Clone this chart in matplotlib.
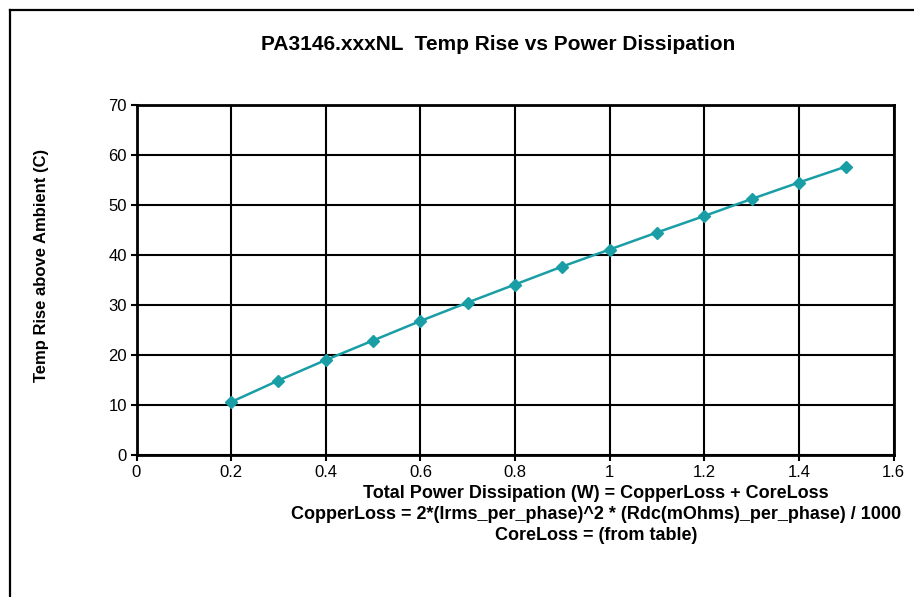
import matplotlib
matplotlib.use('Agg')
import matplotlib.pyplot as plt
from matplotlib.lines import Line2D

plt.rcParams['font.family'] = ['Liberation Sans', 'DejaVu Sans']

# Total power dissipation (W) vs temperature rise above ambient (C)
power_w = [0.2, 0.3, 0.4, 0.5, 0.6, 0.7, 0.8, 0.9, 1.0, 1.1, 1.2, 1.3, 1.4, 1.5]
temp_rise_c = [10.6, 14.9, 19.0, 22.9, 26.8, 30.5, 34.1, 37.7, 41.1, 44.5, 47.8, 51.2, 54.5, 57.7]

x_ticks = [0, 0.2, 0.4, 0.6, 0.8, 1.0, 1.2, 1.4, 1.6]
x_tick_labels = ['0', '0.2', '0.4', '0.6', '0.8', '1', '1.2', '1.4', '1.6']
y_ticks = [0, 10, 20, 30, 40, 50, 60, 70]

title = 'PA3146.xxxNL  Temp Rise vs Power Dissipation'
y_label = 'Temp Rise above Ambient (C)'
x_label_lines = ['Total Power Dissipation (W) = CopperLoss + CoreLoss',
                 'CopperLoss = 2*(Irms_per_phase)^2 * (Rdc(mOhms)_per_phase) / 1000',
                 'CoreLoss = (from table)']

line_color = '#1a9ea6'

fig = plt.figure(figsize=(9.14, 5.97), dpi=100)
ax = fig.add_axes([136.5 / 914, 1 - 455 / 597, (893.5 - 136.5) / 914, (455 - 105) / 597])

ax.plot(power_w, temp_rise_c, color=line_color, linewidth=1.8,
        marker='D', markersize=6, markerfacecolor=line_color, markeredgecolor=line_color,
        zorder=3)

ax.set_xlim(0, 1.6)
ax.set_ylim(0, 70)
ax.set_xticks(x_ticks)
ax.set_xticklabels(x_tick_labels)
ax.set_yticks(y_ticks)
ax.tick_params(axis='both', direction='out', length=4, width=1.5, labelsize=12,
               color='black', pad=3)
ax.grid(True, color='black', linewidth=1.5)
ax.set_axisbelow(True)
for side in ax.spines.values():
    side.set_linewidth(2)
    side.set_color('black')

ax.set_ylabel(y_label, fontsize=12, fontweight='bold')
ax.yaxis.set_label_coords((49 - 136.5) / 757, (455 - 265) / 350)

fig.text(498 / 914, 1 - 45 / 597, title, ha='center', va='center',
         fontsize=15, fontweight='bold')

for i, line in enumerate(x_label_lines):
    fig.text(596 / 914, 1 - (494 + i * 20.5) / 597, line, ha='center', va='center',
             fontsize=13, fontweight='bold')

# chart area border (left and top edges only visible)
fig.add_artist(Line2D([9.5 / 914, 9.5 / 914], [0, 1 - 9.5 / 597], color='black',
                      linewidth=1.6, transform=fig.transFigure))
fig.add_artist(Line2D([9.5 / 914, 1], [1 - 9.5 / 597, 1 - 9.5 / 597], color='black',
                      linewidth=1.6, transform=fig.transFigure))

fig.savefig('out.png', dpi=100)
